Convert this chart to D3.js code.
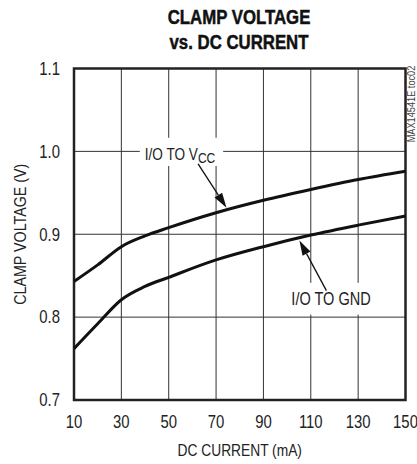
<!DOCTYPE html>
<html><head><meta charset="utf-8">
<script src="https://cdn.jsdelivr.net/npm/d3@7"></script>
<style>
html,body{margin:0;padding:0;background:#fff;}
text{font-family:"Liberation Sans Narrow","Arial Narrow","Liberation Sans",Arial,sans-serif;fill:#222;}
</style></head>
<body>
<svg id="chart" width="417" height="464"></svg>
<script>
// ---- data ----
const currents = [10, 20, 30, 40, 50, 70, 90, 110, 130, 150];
const ioToVcc  = [0.843, 0.863, 0.885, 0.898, 0.908, 0.926, 0.941, 0.954, 0.966, 0.976];
const ioToGnd  = [0.762, 0.792, 0.821, 0.837, 0.848, 0.869, 0.885, 0.899, 0.911, 0.922];
const xTicks = [10, 30, 50, 70, 90, 110, 130, 150];
const yTicks = [0.7, 0.8, 0.9, 1.0, 1.1];
const titleLines = ["CLAMP VOLTAGE", "vs. DC CURRENT"];
const xTitle = "DC CURRENT (mA)";
const yTitle = "CLAMP VOLTAGE (V)";
const sideNote = "MAX14541E toc02";

const svg = d3.select("#chart");
const x = d3.scaleLinear().domain([10, 150]).range([74, 405.5]);
const y = d3.scaleLinear().domain([0.7, 1.1]).range([400, 68.5]);

// condensed text helper: place at (px,py), rotate, squeeze horizontally
function ctext(px, py, str, size, k, opts = {}) {
  const t = svg.append("text")
    .attr("transform", `translate(${px},${py}) rotate(${opts.rot || 0}) scale(${k},1)`)
    .attr("font-size", size)
    .attr("text-anchor", opts.anchor || "start");
  if (opts.dy) t.attr("dy", opts.dy);
  if (opts.weight) t.attr("font-weight", opts.weight);
  if (opts.fill) t.style("fill", opts.fill);
  if (str !== null) t.text(str);
  return t;
}

// grid
const g = svg.append("g");
g.selectAll(".vg").data(xTicks.slice(1, -1)).join("line")
  .attr("x1", d => x(d)).attr("x2", d => x(d))
  .attr("y1", y(0.7)).attr("y2", y(1.1))
  .attr("stroke", "#333").attr("stroke-width", 1);
g.selectAll(".hg").data(yTicks.slice(1, -1)).join("line")
  .attr("y1", d => y(d)).attr("y2", d => y(d))
  .attr("x1", x(10)).attr("x2", x(150))
  .attr("stroke", "#333").attr("stroke-width", 1);

// label knock-out boxes
const boxes = [
  {x0: 37.8, x1: 73.0, y0: 0.9824, y1: 1.0164},
  {x0: 98.5, x1: 134.5, y0: 0.803, y1: 0.8414}
];
g.selectAll(".box").data(boxes).join("rect")
  .attr("x", d => x(d.x0)).attr("width", d => x(d.x1) - x(d.x0))
  .attr("y", d => y(d.y1)).attr("height", d => y(d.y0) - y(d.y1))
  .attr("fill", "#fff");

// frame
svg.append("rect")
  .attr("x", x(10)).attr("y", y(1.1))
  .attr("width", x(150) - x(10)).attr("height", y(0.7) - y(1.1))
  .attr("fill", "none").attr("stroke", "#222").attr("stroke-width", 2.5);

// curves
const line = d3.line().x(d => x(d[0])).y(d => y(d[1])).curve(d3.curveMonotoneX);
[ioToVcc, ioToGnd].forEach(s => {
  svg.append("path").datum(currents.map((c, i) => [c, s[i]]))
    .attr("d", line).attr("fill", "none").attr("stroke", "#111")
    .attr("stroke-width", 3).attr("stroke-linejoin", "round");
});

// arrows [tail current, tail V, tip current, tip V]
const arrows = [
  [62.4, 0.985, 74.4, 0.932],
  [116.6, 0.832, 105.2, 0.8925]
];
arrows.forEach(a => {
  const x1 = x(a[0]), y1 = y(a[1]), x2 = x(a[2]), y2 = y(a[3]);
  const dx = x2 - x1, dy = y2 - y1, L = Math.hypot(dx, dy);
  const ux = dx / L, uy = dy / L, hl = 15, hw = 4.5;
  const bx = x2 - ux * hl, by = y2 - uy * hl;
  svg.append("line").attr("x1", x1).attr("y1", y1).attr("x2", bx).attr("y2", by)
    .attr("stroke", "#111").attr("stroke-width", 1.3);
  svg.append("path")
    .attr("d", `M${x2},${y2}L${bx - uy * hw},${by + ux * hw}L${bx + uy * hw},${by - ux * hw}Z`)
    .attr("fill", "#111");
});

// curve labels
const vccLab = ctext(x(39.9), y(0.99), null, 17, 0.8);
vccLab.append("tspan").text("I/O TO V");
vccLab.append("tspan").text("CC").attr("font-size", 15).attr("dy", 3);
ctext(x(101.8), y(0.815), "I/O TO GND", 17.5, 0.83);

// tick labels
yTicks.forEach(d => ctext(60, y(d), d.toFixed(1), 17.5, 0.85, {anchor: "end", dy: "0.36em"}));
xTicks.forEach(d => ctext(x(d), 428, String(d), 17.5, 0.85, {anchor: "middle"}));

// axis titles
ctext(x(80), 456, xTitle, 17, 0.81, {anchor: "middle"});
ctext(26, (y(0.7) + y(1.1)) / 2, yTitle, 17, 0.84, {anchor: "middle", rot: -90});

// title
titleLines.forEach((d, i) => {
  ctext(239, 23.5 + i * 25, d, 21, 0.8, {anchor: "middle", weight: "bold", fill: "#111"})
    .style("stroke", "#111").style("stroke-width", 0.5);
});

// side note
ctext(415, 104, sideNote, 11.5, 0.8, {anchor: "middle", rot: -90, fill: "#444"});
</script>
</body></html>
